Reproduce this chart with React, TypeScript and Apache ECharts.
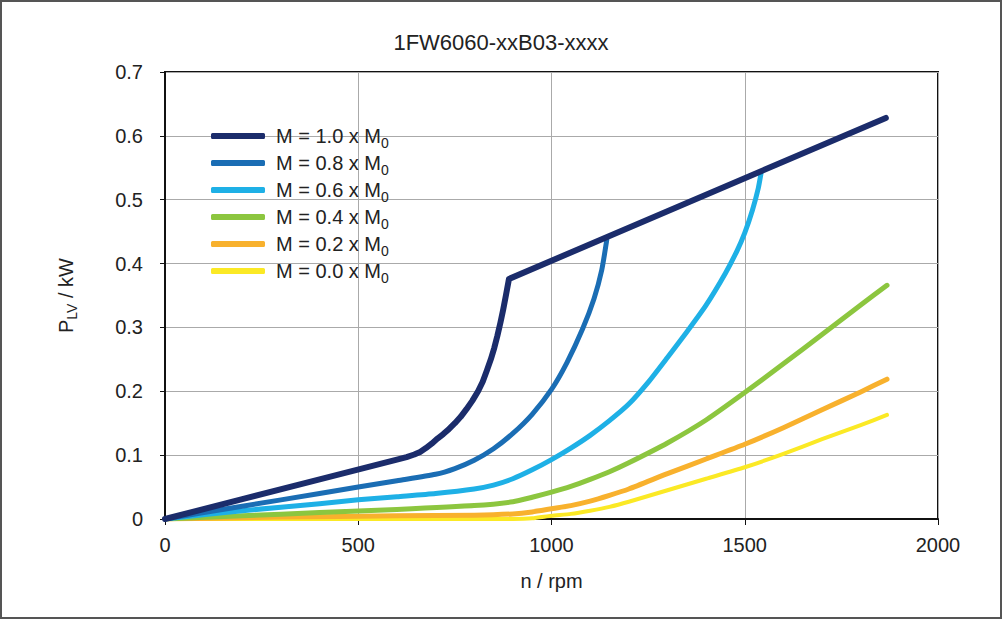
import React, { useEffect, useRef } from "react";
import * as echarts from "echarts";

const titleText = "1FW6060-xxB03-xxxx";
const xAxisName = "n / rpm";
const yAxisName = "P{sub|LV} / kW";

const seriesNames = [
  "M = 1.0 x M0",
  "M = 0.8 x M0",
  "M = 0.6 x M0",
  "M = 0.4 x M0",
  "M = 0.2 x M0",
  "M = 0.0 x M0",
];
const seriesColors = ["#1b2c6b", "#1a6db4", "#1eb0e6", "#8cc63f", "#f8b12d", "#fbe925"];

const m10: [number, number][] = [
  [0, 0], [200, 0.031], [400, 0.062], [600, 0.093], [625, 0.097], [645, 0.101], [660, 0.105],
  [675, 0.111], [690, 0.118], [705, 0.126], [720, 0.133], [735, 0.141], [750, 0.15],
  [765, 0.16], [780, 0.172], [795, 0.185], [810, 0.2], [822, 0.215], [833, 0.233],
  [843, 0.25], [852, 0.268], [860, 0.287], [868, 0.308], [875, 0.328], [882, 0.35],
  [890, 0.376], [1865, 0.628],
];
const m08: [number, number][] = [
  [0, 0], [200, 0.02], [400, 0.04], [600, 0.06], [700, 0.07], [750, 0.079], [800, 0.092],
  [850, 0.11], [900, 0.134], [950, 0.164], [1000, 0.203], [1040, 0.245], [1080, 0.297],
  [1110, 0.345], [1130, 0.39], [1143, 0.437],
];
const m06: [number, number][] = [
  [0, 0], [200, 0.013], [400, 0.024], [500, 0.03], [600, 0.035], [700, 0.04], [800, 0.047],
  [850, 0.053], [900, 0.063], [950, 0.077], [1000, 0.093], [1050, 0.111], [1100, 0.131],
  [1150, 0.154], [1200, 0.18], [1250, 0.214], [1300, 0.253], [1350, 0.293], [1400, 0.335],
  [1450, 0.385], [1480, 0.42], [1500, 0.448], [1520, 0.484], [1535, 0.518], [1542, 0.541],
];
const m04: [number, number][] = [
  [0, 0], [200, 0.005], [400, 0.01], [600, 0.015], [800, 0.021],
  [900, 0.027], [950, 0.034], [1000, 0.042], [1050, 0.051], [1100, 0.062], [1150, 0.074],
  [1200, 0.088], [1300, 0.119], [1400, 0.155], [1500, 0.198], [1600, 0.243], [1700, 0.289],
  [1800, 0.335], [1868, 0.366],
];
const m02: [number, number][] = [
  [0, 0], [300, 0.003], [600, 0.005], [800, 0.006], [900, 0.008], [950, 0.011], [1000, 0.016],
  [1050, 0.021], [1100, 0.028], [1150, 0.037], [1200, 0.047], [1300, 0.071], [1400, 0.094],
  [1500, 0.117], [1600, 0.143], [1700, 0.171], [1800, 0.199], [1868, 0.219],
];
const m00: [number, number][] = [
  [0, 0], [900, 0.0], [950, 0.001], [1000, 0.005], [1050, 0.008], [1100, 0.013], [1150, 0.019],
  [1200, 0.027], [1300, 0.045], [1400, 0.063], [1500, 0.081], [1600, 0.102], [1700, 0.125],
  [1800, 0.147], [1868, 0.163],
];
const seriesData = [m10, m08, m06, m04, m02, m00];
const lineWidths = [6, 5, 5, 5, 5, 4];
const smoothing = [0, 0.2, 0.2, 0.2, 0.2, 0.2];

const FONT = "'Liberation Sans', Arial, sans-serif";

export default function App() {
  const ref = useRef<HTMLDivElement>(null);
  useEffect(() => {
    if (!ref.current) return;
    const chart = echarts.init(ref.current, undefined, { renderer: "svg" });
    const series = seriesNames.map((name, i) => ({
      name,
      type: "line",
      data: seriesData[i],
      showSymbol: false,
      smooth: smoothing[i] > 0 ? smoothing[i] : false,
      z: 10 - i,
      lineStyle: { color: seriesColors[i], width: lineWidths[i], cap: "round", join: "round" },
      itemStyle: { color: seriesColors[i] },
    }));
    chart.setOption({
      animation: false,
      backgroundColor: "#ffffff",
      textStyle: { fontFamily: FONT },
      title: {
        text: titleText,
        left: "center",
        top: 26,
        textStyle: { fontSize: 22, fontWeight: "normal", color: "#222", fontFamily: FONT },
      },
      graphic: [
        {
          type: "rect",
          shape: { x: 1, y: 1, width: 1000, height: 617 },
          style: { fill: "none", stroke: "#555", lineWidth: 2 },
          silent: true,
        },
      ],
      legend: {
        data: seriesNames,
        orient: "vertical",
        left: 206,
        top: 121,
        itemWidth: 54,
        itemHeight: 6,
        itemGap: 3,
        icon: "roundRect",
        formatter: (name: string) => name.replace(/M0$/, "M{sub|0}"),
        textStyle: {
          fontSize: 20,
          color: "#222",
          fontFamily: FONT,
          padding: [0, 0, 0, 6],
          rich: {
            sub: { fontSize: 14, color: "#222", fontFamily: FONT, padding: [14, 0, 0, 0] },
          },
        },
      },
      grid: { left: 165, right: 64, top: 72, bottom: 100, show: true, borderColor: "#111", borderWidth: 2 },
      xAxis: {
        type: "value",
        min: 0,
        max: 2000,
        interval: 500,
        name: xAxisName,
        nameLocation: "middle",
        nameGap: 52,
        nameTextStyle: { fontSize: 20, color: "#222", fontFamily: FONT },
        axisLine: { show: true, lineStyle: { color: "#111", width: 2 } },
        axisTick: { show: true, length: 6, lineStyle: { color: "#111", width: 1 } },
        axisLabel: {
          fontSize: 20,
          color: "#222",
          margin: 16,
          fontFamily: FONT,
          formatter: (v: number) => String(v),
        },
        splitLine: { show: true, lineStyle: { color: "#aaa", width: 1 } },
      },
      yAxis: {
        type: "value",
        min: 0,
        max: 0.7,
        interval: 0.1,
        name: yAxisName,
        nameLocation: "middle",
        nameRotate: 90,
        nameGap: 86,
        nameTextStyle: {
          fontSize: 20,
          color: "#222",
          fontFamily: FONT,
          rich: { sub: { fontSize: 14, color: "#222", fontFamily: FONT, padding: [12, 0, 0, 0] } },
        },
        axisLine: { show: true, lineStyle: { color: "#111", width: 2 } },
        axisTick: { show: true, length: 5, lineStyle: { color: "#111", width: 1 } },
        axisLabel: { fontSize: 20, color: "#222", margin: 22, fontFamily: FONT },
        splitLine: { show: true, lineStyle: { color: "#aaa", width: 1 } },
      },
      series,
    });
    return () => chart.dispose();
  }, []);
  return (
    <div
      ref={ref}
      style={{ position: "fixed", left: 0, top: 0, width: 1002, height: 619, background: "#fff" }}
    />
  );
}
